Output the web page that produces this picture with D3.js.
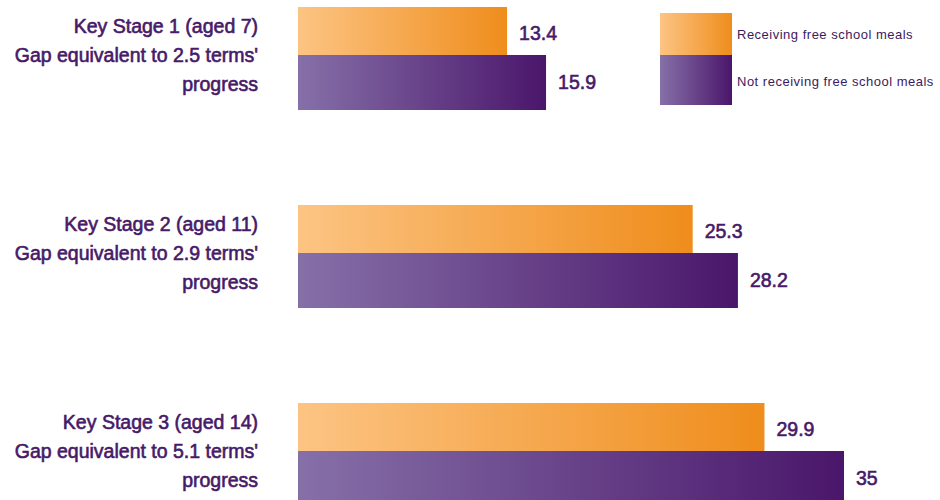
<!DOCTYPE html>
<html>
<head>
<meta charset="utf-8">
<script src="https://cdn.jsdelivr.net/npm/d3@7"></script>
<style>
  body { margin: 0; background: #fff; }
  svg { display: block; }
  text { font-family: "Liberation Sans", Arial, sans-serif; fill: #461a68; }
</style>
</head>
<body>
<div id="chart"></div>
<script>
// Size
const WIDTH = 940;
const HEIGHT = 500;

// Data
const stages = ["Key Stage 1 (aged 7)", "Key Stage 2 (aged 11)", "Key Stage 3 (aged 14)"];
const gapLines = ["Gap equivalent to 2.5 terms'", "Gap equivalent to 2.9 terms'", "Gap equivalent to 5.1 terms'"];
const fsm = [13.4, 25.3, 29.9];
const nonFsm = [15.9, 28.2, 35];
const seriesNames = ["Receiving free school meals", "Not receiving free school meals"];

var svg = d3
  .select("#chart")
  .append("svg")
  .attr("width", WIDTH)
  .attr("height", HEIGHT);

// Gradients (light on the left, dark on the right)
var defs = svg.append("defs");
function gradient(id, from, to) {
  var g = defs
    .append("linearGradient")
    .attr("id", id)
    .attr("x1", "0%")
    .attr("x2", "100%")
    .attr("y1", "0%")
    .attr("y2", "0%");
  g.append("stop").attr("offset", "0%").attr("stop-color", from);
  g.append("stop").attr("offset", "100%").attr("stop-color", to);
}
gradient("orange", "#fcc483", "#ef8d1c");
gradient("purple", "#8670a8", "#4a166b");

// Scales
const xScale = d3.scaleLinear().domain([0, 35]).range([298, 844]);

const yScale = d3
  .scaleBand()
  .domain(stages)
  .range([7, 506])
  .paddingInner(95 / 198)
  .paddingOuter(0);

const topH = yScale.bandwidth() * 0.466; // orange bar
const botH = yScale.bandwidth() - topH; // purple bar

var rows = stages.map((s, i) => ({ stage: s, gap: gapLines[i], a: fsm[i], b: nonFsm[i] }));

var group = svg
  .selectAll("g.row")
  .data(rows)
  .enter()
  .append("g")
  .attr("class", "row")
  .attr("transform", (d) => "translate(0," + yScale(d.stage) + ")");

// Bars
group
  .append("rect")
  .attr("x", xScale(0))
  .attr("y", 0)
  .attr("width", (d) => xScale(d.a) - xScale(0))
  .attr("height", topH)
  .attr("fill", "url(#orange)");

group
  .append("rect")
  .attr("x", xScale(0))
  .attr("y", topH)
  .attr("width", (d) => xScale(d.b) - xScale(0))
  .attr("height", botH)
  .attr("fill", "url(#purple)");

// Value labels
function valueText(sel, key, y) {
  sel
    .append("text")
    .attr("x", (d) => xScale(d[key]) + 12)
    .attr("y", y)
    .attr("font-size", "19.5px")
    .attr("stroke", "#461a68")
    .attr("stroke-width", 0.6)
    .text((d) => d[key]);
}
valueText(group, "a", topH / 2 + 9);
valueText(group, "b", topH + botH / 2 + 7);

// Category labels
var label = group
  .append("text")
  .attr("text-anchor", "end")
  .attr("font-size", "19.5px")
  .attr("stroke", "#461a68")
  .attr("stroke-width", 0.6);

label.append("tspan").attr("x", 258).attr("y", 26).text((d) => d.stage);
label.append("tspan").attr("x", 258).attr("y", 55).text((d) => d.gap);
label.append("tspan").attr("x", 258).attr("y", 84).text("progress");

// Legend
var legend = svg.append("g").attr("transform", "translate(660, 13)");

legend
  .selectAll("rect")
  .data(seriesNames)
  .enter()
  .append("rect")
  .attr("x", 0)
  .attr("y", (d, i) => (i === 0 ? 0 : 42))
  .attr("width", 72)
  .attr("height", (d, i) => (i === 0 ? 42 : 50))
  .attr("fill", (d, i) => (i === 0 ? "url(#orange)" : "url(#purple)"));

legend
  .selectAll("text")
  .data(seriesNames)
  .enter()
  .append("text")
  .attr("x", 77)
  .attr("y", (d, i) => (i === 0 ? 26 : 73))
  .attr("font-size", "13px")
  .attr("letter-spacing", "0.5px")
  .style("fill", "#3d1a5e")
  .text((d) => d);
</script>
</body>
</html>
